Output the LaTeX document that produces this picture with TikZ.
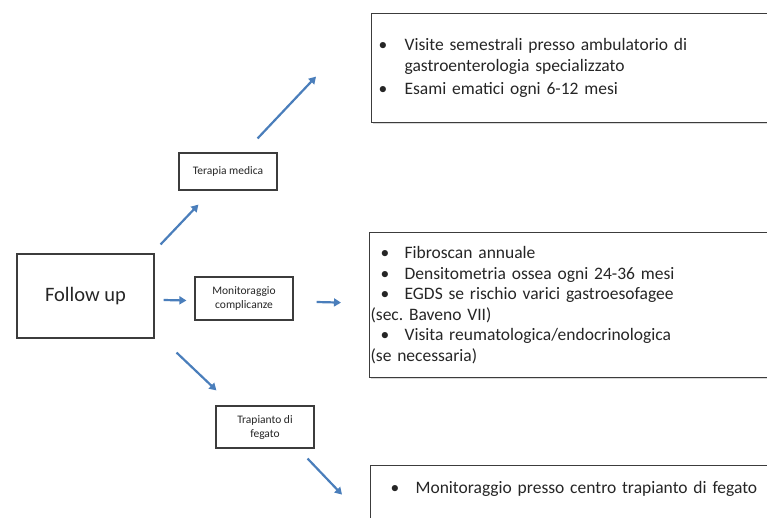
\documentclass[tikz,border=0pt]{standalone}
\usepackage{fontspec}
\setmainfont{Carlito}
\usetikzlibrary{arrows.meta,shadows}
\definecolor{flowblue}{HTML}{4A7EBB}
\definecolor{inkgray}{HTML}{262626}
\newcommand{\blt}[2]{\makebox[#2][l]{\hspace*{#1}\textbullet}}
\tikzset{%
    box/.style={%
        draw=inkgray!90, line width=1.2pt, fill=white, text=inkgray,
        drop shadow={shadow xshift=1pt, shadow yshift=-1pt, opacity=0.3}
    },
    smallbox/.style={%
        box, minimum width=98pt, align=center,
        font=\fontsize{11.5}{14}\selectfont
    },
    listbox/.style={%
        box, anchor=north west, minimum width=420pt, text width=420pt,
        inner xsep=0pt, align=left, font=\fontsize{17.5}{20.5}\selectfont
    },
    flow/.style={%
        draw=flowblue, line width=2.2pt, -{Triangle[length=7pt, width=8pt]}
    }
}
\begin{document}
\begin{tikzpicture}[x=1pt, y=-1pt]
    \useasboundingbox (0,0) rectangle (767,517);
    \clip (0,0) rectangle (767,517);

    \node[box, minimum width=137pt, minimum height=84pt,
        font=\fontsize{20.5}{24}\selectfont] (follow) at (85.5,296) {Follow up};

    \node[smallbox, minimum height=37pt] (terapia) at (228,171.5) {Terapia medica};
    \node[smallbox, minimum height=43pt] (monit) at (244,298.5) {Monitoraggio\\complicanze};
    \node[smallbox, minimum height=42pt] (trap) at (265,427) {Trapianto di\\fegato};

    \node[listbox, minimum height=109pt] (topbox) at (371,13) {%
        \blt{7pt}{33pt}Visite semestrali presso ambulatorio di\\
        \hspace*{33pt}gastroenterologia specializzato\\[3pt]
        \blt{7pt}{33pt}Esami ematici ogni 6-12 mesi};
    \node[listbox, minimum height=145pt] (midbox) at (369,232) {%
        \blt{11pt}{35pt}Fibroscan annuale\\
        \blt{11pt}{35pt}Densitometria ossea ogni 24-36 mesi\\
        \blt{11pt}{35pt}EGDS se rischio varici gastroesofagee\\
        \hspace*{1pt}(sec.\ Baveno VII)\\
        \blt{11pt}{35pt}Visita reumatologica/endocrinologica\\
        \hspace*{1pt}(se necessaria)};
    \node[listbox, minimum height=58pt, text height=13pt, text depth=15pt] (botbox) at (370,465) {%
        \blt{20pt}{45pt}Monitoraggio presso centro trapianto di fegato};

    \draw[flow] ([shift={(6,-9)}]follow.north east) -- ([shift={(20,14)}]terapia.south west);
    \draw[flow] ([shift={(9,4)}]follow.east) -- ([shift={(-8,2)}]monit.west);
    \draw[flow] ([shift={(22,14)}]follow.south east) -- ([shift={(1,-15)}]trap.north west);
    \draw[flow] ([shift={(-20,-14)}]terapia.north east) -- ([shift={(-55,8.5)}]topbox.west);
    \draw[flow] ([shift={(23,3.5)}]monit.east) -- ([shift={(-28,-2.5)}]midbox.west);
    \draw[flow] ([shift={(-7,10)}]trap.south east) -- ([shift={(-28,0)}]botbox.west);
\end{tikzpicture}
\end{document}
